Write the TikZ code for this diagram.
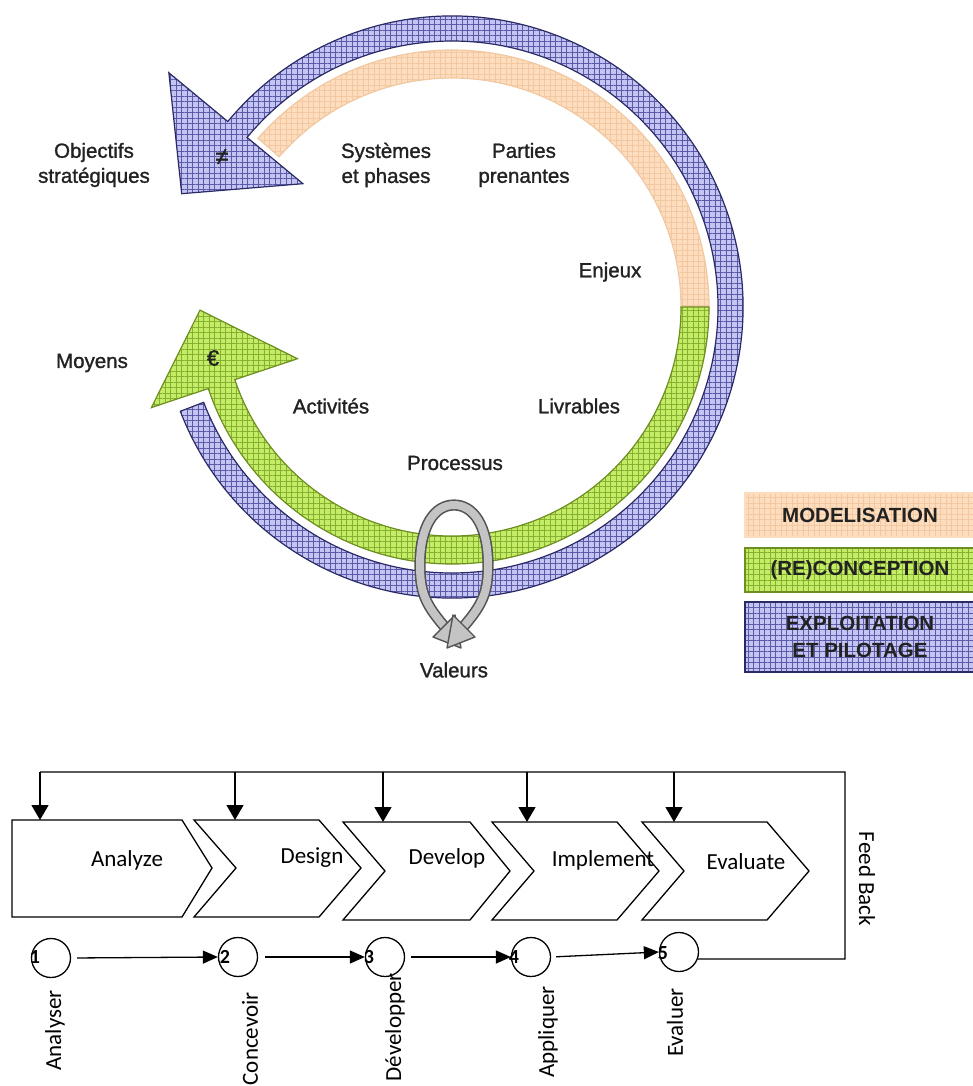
\documentclass[tikz,border=0pt]{standalone}
\usepackage{fontspec}
\setmainfont{Liberation Sans}
\newfontfamily\heavy[FakeBold=1.3]{Liberation Sans}
\newfontfamily\calib{Carlito}
\usetikzlibrary{calc,arrows.meta,patterns.meta}
\definecolor{bluefill}{HTML}{C4C4F2}
\definecolor{bluegrid}{HTML}{5A5AA8}
\definecolor{blueline}{HTML}{2A2A66}
\definecolor{greenfill}{HTML}{C4EC66}
\definecolor{greengrid}{HTML}{86B030}
\definecolor{greenline}{HTML}{6E8E22}
\definecolor{peachfill}{HTML}{FDDDBD}
\definecolor{peachgrid}{HTML}{F2C8A2}
\definecolor{loopfill}{HTML}{C4C4C4}
\definecolor{loopline}{HTML}{555555}
\definecolor{txt}{HTML}{222222}
\tikzset{
  gridded/.style n args={3}{
    preaction={fill=#1},
    preaction={pattern={Lines[angle=0,distance=5.5pt,line width=0.6pt]},pattern color=#2},
    pattern={Lines[angle=90,distance=5.5pt,line width=0.6pt]},pattern color=#2,
    draw=#3, line width=1.2pt, line join=miter},
  lbl/.style={font=\heavy\fontsize{20.5}{25}\selectfont, text=txt, align=center, inner sep=0pt},
  leg/.style={font=\bfseries\fontsize{20.5}{27}\selectfont, text=txt, align=center,
    minimum width=230pt, inner sep=0pt},
  loopband/.style={draw=loopline, double=loopfill, double distance=8pt, line width=1.6pt},
  loophead/.style={fill=loopfill, draw=loopline, line width=1.4pt, line join=round},
  chevbox/.style={draw=black, line width=1.3pt, line join=miter},
  cal/.style={font=\calib\fontsize{23}{23}\selectfont, inner sep=0pt},
  fbarrow/.style={-{Triangle[length=15pt,width=17pt]}, line width=1.3pt},
  steparrow/.style={-{Triangle[length=15pt,width=13pt]}, line width=1.3pt},
  numc/.style={circle, draw=black, line width=1.3pt, minimum size=39pt, inner sep=0pt},
  numtxt/.style={font=\calib\bfseries\fontsize{20}{20}\selectfont, inner sep=0pt},
  vlabel/.style={cal, rotate=90, anchor=east},
}
\begin{document}
\begin{tikzpicture}[x=1pt,y=1pt]
\useasboundingbox (0,0) rectangle (972,-1086);

% ---------- cycle ----------
\begin{scope}[shift={(452,-307)}]
  % peach
  \path[gridded={peachfill}{peachgrid}{peachgrid}]
    (0:229) -- (0:257) arc[start angle=0,end angle=139,radius=257]
    -- (139:229) arc[start angle=139,end angle=0,radius=229] -- cycle;
  % green
  \path[gridded={greenfill}{greengrid}{greenline}]
    (0:229) -- (0:257) arc[start angle=0, end angle=-161.5, radius=257]
    -- (198.5:317) -- ($(198.5:240)+(108.5:77)$) -- (198.5:163) -- (198.5:229)
    arc[start angle=198.5, end angle=360, radius=229] -- cycle;
  % blue
  \path[gridded={bluefill}{bluegrid}{blueline}]
    (201:266) -- (201:291) arc[start angle=201, end angle=500.4, radius=291]
    -- (140.4:367.5) -- ($(140.4:280.5)+(230.4:85)$) -- (140.4:193.5) -- (140.4:266)
    arc[start angle=140.4, end angle=-159, radius=266] -- cycle;
\end{scope}

% ---------- valeurs loop ----------
\draw[loopband] (444,-626) .. controls (424,-603) and (420,-590) .. (420,-565)
  .. controls (420,-525) and (435,-505) .. (454,-505)
  .. controls (473,-505) and (488,-525) .. (488,-565)
  .. controls (488,-590) and (484,-603) .. (464,-626);
\path[loophead] (455,-615) -- (461,-648) -- (433,-637) -- cycle;
\path[loophead] (453,-615) -- (447,-648) -- (475,-637) -- cycle;

% ---------- labels ----------
\node[lbl] (obj) at (94,-165) {Objectifs\\stratégiques};
\node[lbl] (sys) at (386,-165) {Systèmes\\et phases};
\node[lbl] (par) at (524,-165) {Parties\\prenantes};
\node[lbl] (enj) at (610,-272) {Enjeux};
\node[lbl] (moy) at (92,-363) {Moyens};
\node[lbl] (act) at (331,-406) {Activités};
\node[lbl] (liv) at (579,-406) {Livrables};
\node[lbl] (pro) at (455,-463) {Processus};
\node[lbl] (val) at (454,-670) {Valeurs};
\node[lbl, font=\heavy\fontsize{24}{24}\selectfont] (neq) at (222,-157) {≠};
\node[lbl, font=\heavy\fontsize{22}{22}\selectfont] (eur) at (213,-358) {€};

% ---------- legend ----------
\node[leg, gridded={peachfill}{peachgrid}{peachfill}, minimum height=44pt] (legM) at (860,-515) {MODELISATION};
\node[leg, gridded={greenfill}{greengrid}{greenline}, minimum height=44pt] (legR) at (860,-570) {(RE)CONCEPTION};
\node[leg, gridded={bluefill}{bluegrid}{blueline}, minimum height=70pt] (legE) at (860,-637) {EXPLOITATION\\ET PILOTAGE};

% ---------- lower diagram ----------
\draw[chevbox] (12,-820) -- (182,-820) -- (212,-868) -- (182,-917) -- (12,-917) -- cycle;
\draw[chevbox] (194,-820) -- (319,-820) -- (361,-868) -- (319,-917) -- (194,-917) -- (236,-868) -- cycle;
\draw[chevbox] (343,-822) -- (470,-822) -- (510,-871) -- (470,-920) -- (343,-920) -- (385,-871) -- cycle;
\draw[chevbox] (492,-822) -- (617,-822) -- (659,-871) -- (617,-920) -- (492,-920) -- (534,-871) -- cycle;
\draw[chevbox] (642,-822) -- (767,-822) -- (809,-871) -- (767,-920) -- (642,-920) -- (684,-871) -- cycle;

\node[cal] (tAn) at (127,-860) {Analyze};
\node[cal] (tDe) at (312,-858) {Design};
\node[cal] (tDv) at (447,-858) {Develop};
\node[cal] (tIm) at (603,-860) {Implement};
\node[cal] (tEv) at (746,-862) {Evaluate};

\coordinate (top1) at (40,-820);
\coordinate (top2) at (235,-820);
\coordinate (top3) at (383,-822);
\coordinate (top4) at (527,-822);
\coordinate (top5) at (674,-822);
\coordinate (fb1) at (40,-772);
\coordinate (fb2) at (235,-772);
\coordinate (fb3) at (383,-772);
\coordinate (fb4) at (527,-772);
\coordinate (fb5) at (674,-772);
\coordinate (fbTR) at (845,-772);
\coordinate (fbBR) at (845,-959);

\node[numc] (c1) at (51,-958) {};
\node[numc] (c2) at (238,-957) {};
\node[numc] (c3) at (385,-957) {};
\node[numc] (c4) at (531,-957) {};
\node[numc] (c5) at (679,-952) {};
\node[numtxt] (n1) at (35,-957) {1};
\node[numtxt] (n2) at (225,-957) {2};
\node[numtxt] (n3) at (369,-957) {3};
\node[numtxt] (n4) at (514,-957) {4};
\node[numtxt] (n5) at (663,-953) {5};

\draw[steparrow, shorten <=6pt] (c1.east) -- (c2.west);
\draw[steparrow, shorten <=7pt] (c2.east) -- (c3.west);
\draw[steparrow, shorten <=6pt] (c3.east) -- (c4.west);
\draw[steparrow, shorten <=5pt] (c4.east) -- (c5.west);

\draw[line width=1.3pt, line join=miter] (c5.-20) -- (fbBR) -- (fbTR) -- (fb1);
\draw[fbarrow] (fb1) -- (top1);
\draw[fbarrow] (fb2) -- (top2);
\draw[fbarrow] (fb3) -- (top3);
\draw[fbarrow] (fb4) -- (top4);
\draw[fbarrow] (fb5) -- (top5);

\node[cal, rotate=-90] (fbt) at (867,-879) {Feed Back};

\node[vlabel] (lAn) at (55,-990) {Analyser};
\node[vlabel] (lCo) at (250,-992) {Concevoir};
\node[vlabel] (lDe) at (395,-973) {Développer};
\node[vlabel] (lAp) at (548,-986) {Appliquer};
\node[vlabel] (lEv) at (675,-988) {Evaluer};
\end{tikzpicture}
\end{document}
